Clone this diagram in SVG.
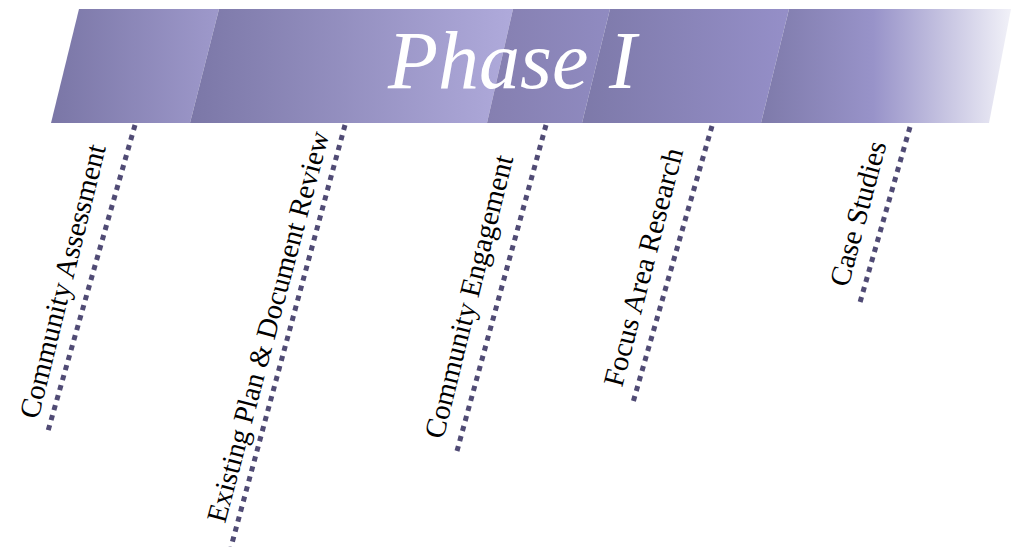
<svg xmlns="http://www.w3.org/2000/svg" width="1011" height="547" viewBox="0 0 1011 547">
  <defs>
    <linearGradient id="g1" x1="0" y1="0" x2="1" y2="0">
      <stop offset="0" stop-color="#7a76a6"/>
      <stop offset="1" stop-color="#9e99cb"/>
    </linearGradient>
    <linearGradient id="g2" x1="0" y1="0" x2="1" y2="0">
      <stop offset="0" stop-color="#7b77a7"/>
      <stop offset="1" stop-color="#afaadb"/>
    </linearGradient>
    <linearGradient id="g3" x1="0" y1="0" x2="1" y2="0">
      <stop offset="0" stop-color="#857fb0"/>
      <stop offset="1" stop-color="#908bc1"/>
    </linearGradient>
    <linearGradient id="g4" x1="0" y1="0" x2="1" y2="0">
      <stop offset="0" stop-color="#7d79a9"/>
      <stop offset="1" stop-color="#958fc8"/>
    </linearGradient>
    <linearGradient id="g5" x1="0" y1="0" x2="1" y2="0">
      <stop offset="0" stop-color="#7e7aaa"/>
      <stop offset="0.45" stop-color="#9893c9"/>
      <stop offset="1" stop-color="#f1f1f8"/>
    </linearGradient>
  </defs>
  <style>
    .title { font-family: "Liberation Serif", "DejaVu Serif", serif; font-style: italic; font-size: 82px; fill: #ffffff; }
    .task { font-family: "Liberation Serif", "DejaVu Serif", serif; font-size: 29px; fill: #000000; }
    .dots { stroke: #504b75; stroke-width: 5; stroke-dasharray: 5.2 5.2; fill: none; }
  </style>

  <!-- Phase banner made of slanted gradient segments -->
  <g id="phase-1">
    <polygon points="79,9 219,9 190,123 51,123" fill="url(#g1)"/>
    <polygon points="219,9 513,9 487,123 190,123" fill="url(#g2)"/>
    <polygon points="513,9 610,9 582,123 487,123" fill="url(#g3)"/>
    <polygon points="610,9 789,9 761,123 582,123" fill="url(#g4)"/>
    <polygon points="789,9 1011,9 989,123 761,123" fill="url(#g5)"/>
    <text class="title" x="388" y="88">Phase I</text>
  </g>

  <!-- dotted leaders hanging from the banner -->
  <g id="connectors">
    <line class="dots" x1="135" y1="125" x2="48" y2="431"/>
    <line class="dots" x1="345" y1="125" x2="231" y2="547"/>
    <line class="dots" x1="546" y1="125" x2="457" y2="451"/>
    <line class="dots" x1="712" y1="126" x2="632" y2="406"/>
    <line class="dots" x1="910" y1="127" x2="859" y2="306"/>
  </g>

  <!-- task labels, reading upward along each leader -->
  <g id="community-assessment">
    <text class="task" transform="translate(38,420) rotate(-76)">Community Assessment</text>
  </g>
  <g id="existing-plan-review">
    <text class="task" style="font-size:28.6px" transform="translate(225,524) rotate(-75)">Existing Plan &amp; Document Review</text>
  </g>
  <g id="community-engagement">
    <text class="task" transform="translate(443,440) rotate(-76)">Community Engagement</text>
  </g>
  <g id="focus-area-research">
    <text class="task" transform="translate(622,388) rotate(-75.5)">Focus Area Research</text>
  </g>
  <g id="case-studies">
    <text class="task" transform="translate(848,288) rotate(-75)">Case Studies</text>
  </g>
</svg>
